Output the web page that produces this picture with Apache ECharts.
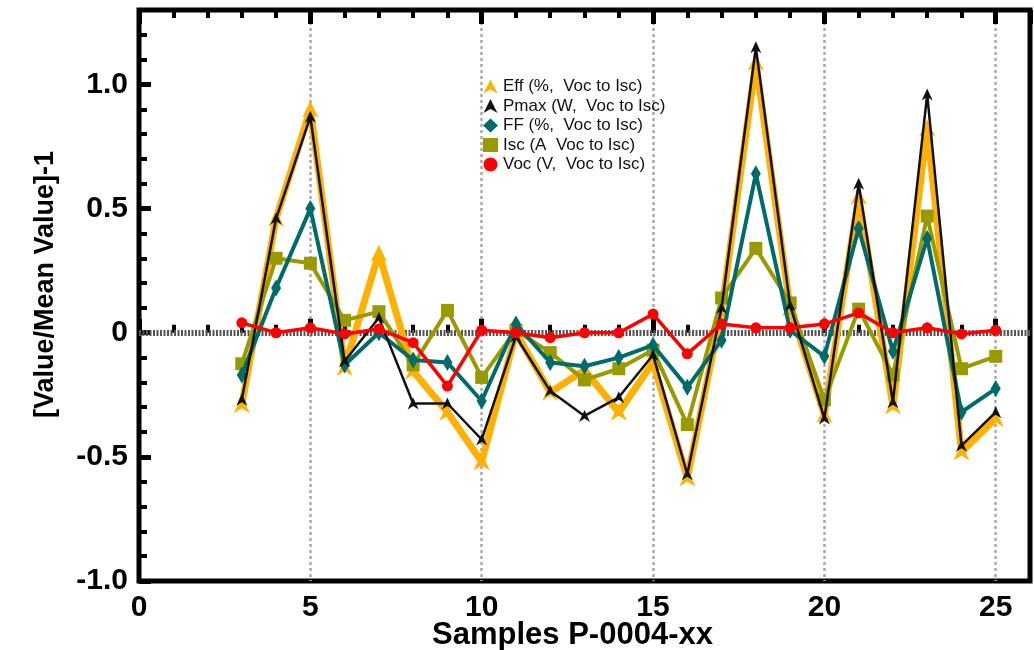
<!DOCTYPE html>
<html>
<head>
<meta charset="utf-8">
<script src="https://cdn.jsdelivr.net/npm/echarts@6/dist/echarts.min.js"></script>
<style>
html,body{margin:0;padding:0;background:#fff;}
#chart{width:1034px;height:650px;}
</style>
</head>
<body>
<div id="chart"></div>
<script>
const samples = [3,4,5,6,7,8,9,10,11,12,13,14,15,16,17,18,19,20,21,22,23,24,25];
const eff  = [-0.29,0.46,0.90,-0.14,0.32,-0.155,-0.32,-0.52,0.0,-0.24,-0.15,-0.32,-0.12,-0.585,0.09,1.09,0.10,-0.33,0.55,-0.295,0.825,-0.48,-0.345];
const pmax = [-0.27,0.46,0.87,-0.115,0.06,-0.285,-0.285,-0.43,-0.015,-0.235,-0.335,-0.26,-0.09,-0.57,0.10,1.15,0.11,-0.345,0.60,-0.28,0.96,-0.455,-0.32];
const ff   = [-0.17,0.18,0.50,-0.13,0.0,-0.11,-0.12,-0.275,0.035,-0.12,-0.135,-0.10,-0.05,-0.22,-0.03,0.64,0.01,-0.095,0.42,-0.075,0.38,-0.32,-0.225];
const isc  = [-0.125,0.30,0.28,0.05,0.085,-0.13,0.09,-0.18,0.01,-0.08,-0.19,-0.145,-0.07,-0.37,0.14,0.34,0.12,-0.27,0.095,-0.17,0.47,-0.145,-0.095];
const voc  = [0.04,0.0,0.02,-0.005,0.015,-0.04,-0.215,0.01,0.0,-0.02,0.0,0.0,0.075,-0.085,0.035,0.02,0.02,0.035,0.08,0.0,0.02,-0.005,0.01];
const seriesNames = ['Eff (%,  Voc to Isc)','Pmax (W,  Voc to Isc)','FF (%,  Voc to Isc)','Isc (A  Voc to Isc)','Voc (V,  Voc to Isc)'];
const xTitle = 'Samples P-0004-xx';
const yTitle = '[Value/Mean Value]-1';

const ARROW = 'path://M0,0 L6,12 L0,8.5 L-6,12 Z';
const FONT = 'Liberation Sans, Arial, Helvetica, sans-serif';

function pairs(arr){ return samples.map((s,i)=>[s,arr[i]]); }

const chart = echarts.init(document.getElementById('chart'), null, {renderer:'canvas'});

const xBase = {type:'value', min:0, max:26, gridIndex:0, axisLine:{show:false}, splitLine:{show:false}, axisLabel:{show:false}};
const yBase = {type:'value', min:-1, max:1.3, gridIndex:0, axisLine:{show:false}, splitLine:{show:false}, axisLabel:{show:false}};

const option = {
  backgroundColor:'#fff',
  animation:false,
  grid:{left:139, right:4, top:10, bottom:69, show:true, borderColor:'#000', borderWidth:5,
        backgroundColor:'transparent', containLabel:false, outerBoundsMode:'none'},
  legend:{
    orient:'vertical', left:478, top:73, itemGap:2.5, itemWidth:15, itemHeight:14,
    textStyle:{fontFamily:FONT, fontSize:17, color:'#111'},
    data:[
      {name:seriesNames[0], icon:ARROW, itemStyle:{color:'#FFB000'}},
      {name:seriesNames[1], icon:ARROW},
      {name:seriesNames[2], icon:'diamond'},
      {name:seriesNames[3], icon:'rect'},
      {name:seriesNames[4], icon:'circle'}
    ]
  },
  xAxis:[
    Object.assign({}, xBase, {position:'bottom', interval:5,
      axisLabel:{show:true, margin:12, fontFamily:FONT, fontWeight:'bold', fontSize:30, color:'#000', showMaxLabel:false},
      axisTick:{show:true, inside:true, length:14, lineStyle:{color:'#000', width:5}},
      splitLine:{show:true, lineStyle:{color:['rgba(0,0,0,0)','#aaa','#aaa','#aaa','#aaa','#aaa','rgba(0,0,0,0)'], width:2.5, type:[3,3]}},
      name:xTitle, nameLocation:'middle', nameGap:39, nameMoveOverlap:false,
      nameTextStyle:{fontFamily:FONT, fontWeight:'bold', fontSize:31, color:'#000', padding:[0,24,0,0]}}),
    Object.assign({}, xBase, {position:'bottom', interval:1,
      axisTick:{show:true, inside:true, length:8, lineStyle:{color:'#000', width:4}}}),
    Object.assign({}, xBase, {position:'top', interval:5,
      axisTick:{show:true, inside:true, length:14, lineStyle:{color:'#000', width:5}}}),
    Object.assign({}, xBase, {position:'top', interval:1,
      axisTick:{show:true, inside:true, length:8, lineStyle:{color:'#000', width:4}}})
  ],
  yAxis:[
    Object.assign({}, yBase, {position:'left', interval:0.5,
      axisLabel:{show:true, margin:11, fontFamily:FONT, fontWeight:'bold', fontSize:30, color:'#000', showMaxLabel:false,
        formatter:function(v){ return Math.abs(v)<1e-9 ? '0' : v.toFixed(1); }},
      axisTick:{show:true, inside:true, length:12, lineStyle:{color:'#000', width:5}},
      name:yTitle, nameLocation:'middle', nameGap:80, nameRotate:90,
      nameTextStyle:{fontFamily:FONT, fontWeight:'bold', fontSize:27, color:'#000', padding:[0,0,0,22]}}),
    Object.assign({}, yBase, {position:'left', interval:0.1,
      axisTick:{show:true, inside:true, length:8, lineStyle:{color:'#000', width:4}}})
  ],
  series:[
    {name:seriesNames[0], type:'line', data:pairs(eff), symbol:ARROW, symbolSize:[16,17],
      lineStyle:{color:'#FFB000', width:7}, itemStyle:{color:'#FFB000'}, z:2,
      markLine:{silent:true, symbol:'none', label:{show:false}, animation:false,
        lineStyle:{color:'#555', width:6, type:[2,1.5]}, data:[{yAxis:0}], z:1}},
    {name:seriesNames[1], type:'line', data:pairs(pmax), symbol:ARROW, symbolSize:[11,12],
      lineStyle:{color:'#111', width:2.5}, itemStyle:{color:'#111'}, z:6},
    {name:seriesNames[2], type:'line', data:pairs(ff), symbol:'diamond', symbolSize:[10,17],
      lineStyle:{color:'#006B6B', width:4}, itemStyle:{color:'#006B6B'}, z:4},
    {name:seriesNames[3], type:'line', data:pairs(isc), symbol:'rect', symbolSize:13,
      lineStyle:{color:'#999900', width:4}, itemStyle:{color:'#999900'}, z:3},
    {name:seriesNames[4], type:'line', data:pairs(voc), symbol:'circle', symbolSize:11,
      lineStyle:{color:'#FF0000', width:3.5}, itemStyle:{color:'#FF0000'}, z:7}
  ]
};
chart.setOption(option);
</script>
</body>
</html>
